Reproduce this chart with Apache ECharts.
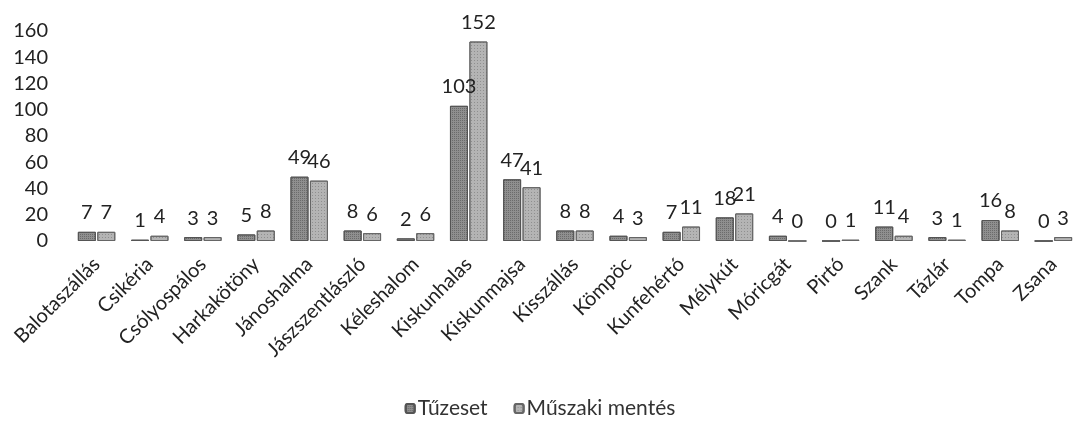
<!DOCTYPE html>
<html><head><meta charset="utf-8">
<script src="https://cdn.jsdelivr.net/npm/echarts@6/dist/echarts.min.js"></script>
<style>html,body{margin:0;padding:0;background:#fff}#c{width:1080px;height:421px}</style>
</head><body><div id="c"></div>
<script>
const categories = ["Balotaszállás","Csikéria","Csólyospálos","Harkakötöny","Jánoshalma","Jászszentlászló","Kéleshalom","Kiskunhalas","Kiskunmajsa","Kisszállás","Kömpöc","Kunfehértó","Mélykút","Móricgát","Pirtó","Szank","Tázlár","Tompa","Zsana"];
const tuzeset = [7,1,3,5,49,8,2,103,47,8,4,7,18,4,0,11,3,16,0];
const muszaki = [7,4,3,8,46,6,6,152,41,8,3,11,21,0,1,4,1,8,3];
const seriesNames = ["Tűzeset","Műszaki mentés"];
const yTicks = {min:0,max:160,interval:20};

const font = 'Lato, "Open Sans", sans-serif';
const chart = echarts.init(document.getElementById('c'), null, {renderer:'canvas'});
const lbl = {show:true, position:'top', distance:9, color:'#222', fontSize:20, fontFamily:font};
chart.setOption({
  animation:false,
  textStyle:{fontFamily:font},
  grid:{left:70, top:31, width:1018, height:210, containLabel:false},
  legend:{bottom:-3, left:'center', itemWidth:9, itemHeight:9, itemGap:26,
    textStyle:{fontSize:21, color:'#333', fontFamily:font, padding:[0,0,0,-2]},
    data:seriesNames},
  xAxis:{type:'category', data:categories,
    axisLine:{show:false}, axisTick:{show:false},
    axisLabel:{rotate:45, fontSize:20, color:'#222', margin:20, interval:0, fontFamily:font}},
  yAxis:{type:'value', min:yTicks.min, max:yTicks.max, interval:yTicks.interval,
    splitLine:{show:false}, axisLine:{show:false}, axisTick:{show:false},
    axisLabel:{fontSize:20, color:'#222', margin:22, fontFamily:font}},
  series:[
    {name:seriesNames[0], type:'bar', data:tuzeset, barWidth:18, barGap:'8%',
     itemStyle:{color:'#8f8f8f', borderColor:'#555', borderWidth:1,
       decal:{symbol:'rect', symbolSize:1, dashArrayX:[1,1], dashArrayY:[1,1], color:'rgba(40,40,40,0.35)'}},
     label:lbl},
    {name:seriesNames[1], type:'bar', data:muszaki, barWidth:18,
     itemStyle:{color:'#b4b4b4', borderColor:'#666', borderWidth:1,
       decal:{symbol:'rect', symbolSize:1, dashArrayX:[1,2], dashArrayY:[1,2], color:'rgba(60,60,60,0.3)'}},
     label:lbl}
  ]
});
</script></body></html>
